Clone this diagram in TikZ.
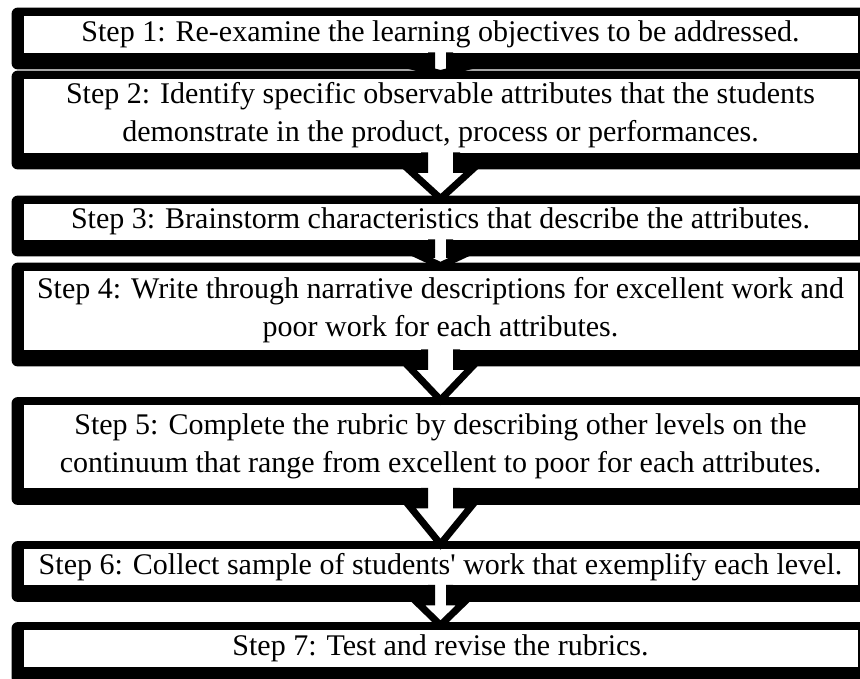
\documentclass[tikz,border=0pt]{standalone}
\usepackage{fontspec}
\setmainfont{Liberation Serif}
\usetikzlibrary{calc,backgrounds}

\begin{document}
\begin{tikzpicture}[x=1pt,y=-1pt,
  stepbox/.style={draw=black,line width=0.8pt,fill=white,inner sep=0pt,
    minimum width=835pt,align=center,font=\fontsize{30}{38}\selectfont},
  stepframe/.style={fill=black,rounded corners=6pt},
  flowarrow/.style={draw=black,fill=white,line width=7pt,line join=miter,miter limit=10}]
\useasboundingbox (0,0) rectangle (860,678);
\node[stepbox,minimum height=38pt] (s1) at (440.5,34)
  {Step 1: Re-examine the learning objectives to be addressed.};
\node[stepbox,minimum height=75pt] (s2) at (440.5,115.5)
  {Step 2: Identify specific observable attributes that the students\\
   demonstrate in the product, process or performances.};
\node[stepbox,minimum height=37pt] (s3) at (440.5,221.5)
  {Step 3: Brainstorm characteristics that describe the attributes.};
\node[stepbox,minimum height=80pt] (s4) at (440.5,310)
  {Step 4: Write through narrative descriptions for excellent work and\\
   poor work for each attributes.};
\node[stepbox,minimum height=84pt] (s5) at (440.5,446.5)
  {Step 5: Complete the rubric by describing other levels on the\\
   continuum that range from excellent to poor for each attributes.};
\node[stepbox,minimum height=37pt] (s6) at (440.5,567)
  {Step 6: Collect sample of students\textquotesingle{} work that exemplify each level.};
\node[stepbox,minimum height=38pt] (s7) at (440.5,648.5)
  {Step 7: Test and revise the rubrics.};
% heavy black frames behind the boxes
\begin{scope}[on background layer]
\fill[white] (0,0) rectangle (860,678);
\foreach \n in {s1,s2,s3,s4,s5,s6,s7}
  \fill[stepframe] ([xshift=-11pt,yshift=7pt]\n.north west)
    rectangle ([xshift=30pt,yshift=-16pt]\n.south east);
\end{scope}
% down arrows: from/to/stem/head/shoulder
\foreach \na/\nb/\sw/\hw/\dy in {s1/s2/9/24/14,s2/s3/16/32/16,s3/s4/9/24/14,
    s4/s5/16/32/16,s5/s6/16/32/16,s6/s7/9/24/16}
  \draw[flowarrow] ($(\na.south)+(-\sw,-1)$) -- ($(\na.south)+(-\sw,\dy)$)
    -- ($(\na.south)+(-\hw,\dy)$) -- ($(\nb.north)+(0,-4)$)
    -- ($(\na.south)+(\hw,\dy)$) -- ($(\na.south)+(\sw,\dy)$)
    -- ($(\na.south)+(\sw,-1)$);
\end{tikzpicture}
\end{document}
